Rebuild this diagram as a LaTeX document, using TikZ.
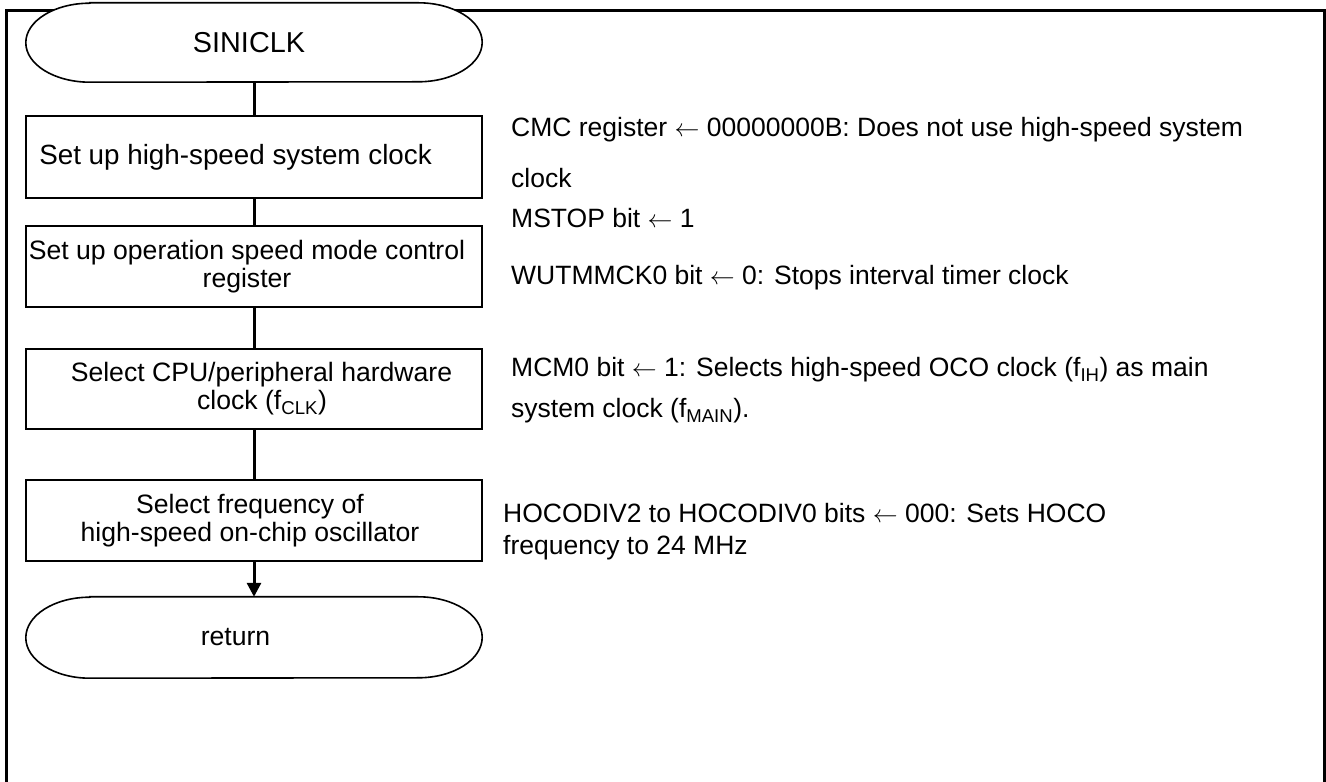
\documentclass[tikz,border=0pt]{standalone}
\usepackage{fontspec}
\setmainfont{Liberation Sans}
\usetikzlibrary{arrows.meta,backgrounds}
\tikzset{
  stepbox/.style={draw, line width=1.6pt, fill=white, minimum width=456pt, align=center, inner sep=0pt},
  termnode/.style={minimum width=456pt, inner sep=0pt},
  bigtext/.style={font=\fontsize{27.8}{28}\selectfont},
  smalltext/.style={font=\fontsize{26.6}{28}\selectfont},
  flow/.style={line width=3pt},
  frameline/.style={line width=3pt},
  note/.style={font=\fontsize{26.5}{28}\selectfont, anchor=base west, inner sep=0pt}
}
\newcommand{\stadium}[2]{%
  \draw[line width=1.6pt, fill=white]
    ([xshift=64pt]#1.north west) -- ([xshift=-64pt]#1.north east)
    arc[start angle=90, end angle=-90, x radius=64pt, y radius=#2]
    -- ([xshift=64pt]#1.south west)
    arc[start angle=270, end angle=90, x radius=64pt, y radius=#2] -- cycle;}
\begin{document}
\begin{tikzpicture}[x=1pt,y=1pt]
\useasboundingbox (0,0) rectangle (1326,782);
% flowchart nodes
\node[termnode, font=\fontsize{28.8}{29}\selectfont, minimum height=79pt] (start) at (254,739.5) {SINICLK\hspace*{10pt}};
\node[stepbox, bigtext, minimum height=82pt] (b1) at (254,625) {Set up high-speed system clock\hspace*{37pt}};
\node[stepbox, smalltext, minimum height=81pt] (b2) at (254,515.5) {Set up operation speed mode control\hspace*{14pt}\\register\hspace*{14pt}};
\node[stepbox, smalltext, minimum height=80pt] (b3) at (254,393) {\hspace*{15pt}Select CPU/peripheral hardware\\\hspace*{16pt}clock (f\textsubscript{CLK})};
\node[stepbox, smalltext, minimum height=81pt] (b4) at (254,261.5) {Select frequency of\hspace*{8pt}\\high-speed on-chip oscillator\hspace*{8pt}};
\node[termnode, smalltext, minimum height=81pt] (ret) at (254,144.5) {return\hspace*{37pt}};
\coordinate (fl) at (6.5,0);
\coordinate (fr) at (1324.5,0);
\begin{scope}[on background layer]
  \draw[frameline] (fl) -- (6.5,771) -- (1324.5,771) -- (fr);
  \stadium{start}{39.5pt}
  \stadium{ret}{40.5pt}
\end{scope}
% connectors
\draw[flow] (start.south) -- (b1.north);
\draw[flow] (b1.south) -- (b2.north);
\draw[flow] (b2.south) -- (b3.north);
\draw[flow] (b3.south) -- (b4.north);
\draw[flow, -{Triangle[width=14pt,length=14pt]}] (b4.south) -- (ret.north);
% notes
\node[note] (n1a) at (511,645) {CMC register $\leftarrow$ 00000000B: Does not use high-speed system};
\node[note] (n1b) at (511,594) {clock};
\node[note] (n2a) at (511,554) {MSTOP bit $\leftarrow$ 1};
\node[note] (n2b) at (511,497) {WUTMMCK0 bit $\leftarrow$ 0: Stops interval timer clock};
\node[note] (n3a) at (511,405) {MCM0 bit $\leftarrow$ 1: Selects high-speed OCO clock (f\textsubscript{IH}) as main};
\node[note] (n3b) at (511,364) {system clock (f\textsubscript{MAIN}).};
\node[note] (n4a) at (503,259) {HOCODIV2 to HOCODIV0 bits $\leftarrow$ 000: Sets HOCO};
\node[note] (n4b) at (503,227) {frequency to 24 MHz};
\end{tikzpicture}
\end{document}
